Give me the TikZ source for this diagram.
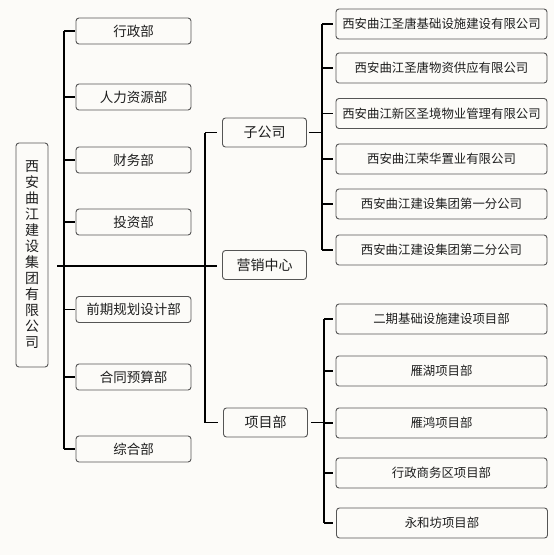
\documentclass[tikz,border=0pt]{standalone}
\usepackage{fontspec}
\newfontfamily\cjk{Noto Sans CJK SC}
\definecolor{bg}{RGB}{252,251,248}
\definecolor{boxgray}{RGB}{85,85,85}
\definecolor{txt}{RGB}{30,30,30}
\begin{document}
\begin{tikzpicture}[x=1pt,y=-1pt,
  box/.style={draw=boxgray, line width=0.9pt, rounded corners=3pt, fill=bg, inner sep=0pt, align=center, text=txt},
  rootbox/.style={box, minimum width=32pt, minimum height=224pt, font=\cjk\fontsize{14}{16}\selectfont},
  lbox/.style={box, minimum width=115pt, minimum height=26pt, font=\cjk\fontsize{13.5}{14}\selectfont},
  mbox/.style={box, minimum width=84pt, minimum height=29pt, font=\cjk\fontsize{14}{15}\selectfont},
  rbox/.style={box, minimum width=211pt, minimum height=30pt, font=\cjk\fontsize{12.4}{14}\selectfont},
  link/.style={line width=1.1pt, black}]
\useasboundingbox[fill=bg] (0,0) rectangle (554,555);

% root
\node[rootbox] (root) at (32,255) {西\\安\\曲\\江\\建\\设\\集\\团\\有\\限\\公\\司};

% left column
\node[lbox] (l1) at (133.5,31) {行政部};
\node[lbox] (l2) at (133.5,97) {人力资源部};
\node[lbox] (l3) at (133.5,160) {财务部};
\node[lbox] (l4) at (133.5,222) {投资部};
\node[lbox] (l5) at (133.5,309.5) {前期规划设计部};
\node[lbox] (l6) at (133.5,377) {合同预算部};
\node[lbox] (l7) at (133.5,449) {综合部};

% middle column
\node[mbox] (zgs) at (264.5,132.5) {子公司};
\node[mbox] (yx)  at (264.5,265) {营销中心};
\node[mbox] (xm)  at (265.5,422.5) {项目部};

% right top
\node[rbox] (a1) at (441.5,24) {西安曲江圣唐基础设施建设有限公司};
\node[rbox] (a2) at (441.5,68) {西安曲江圣唐物资供应有限公司};
\node[rbox] (a3) at (441.5,113.5) {西安曲江新区圣境物业管理有限公司};
\node[rbox] (a4) at (441.5,159) {西安曲江荣华置业有限公司};
\node[rbox] (a5) at (441.5,204) {西安曲江建设集团第一分公司};
\node[rbox] (a6) at (441.5,250) {西安曲江建设集团第二分公司};

% right bottom
\node[rbox] (b1) at (441.5,319) {二期基础设施建设项目部};
\node[rbox] (b2) at (441.5,371) {雁湖项目部};
\node[rbox] (b3) at (441.5,423) {雁鸿项目部};
\node[rbox] (b4) at (441.5,473) {行政商务区项目部};
\node[rbox] (b5) at (442,523) {永和坊项目部};

% spines
\coordinate (sl) at (64,0);
\coordinate (sm) at (205,0);
\coordinate (sa) at (322,0);
\coordinate (sb) at (324,0);
\coordinate (rs) at (57,266);

% root to 营销中心
\draw[link, shorten >=5pt] (rs) -- (rs -| yx.west);

% left spine
\draw[link] (sl |- l1.west) -- (sl |- l7.west);
\foreach \n in {l1,l2,l3,l4,l5,l6,l7}
  \draw[link, shorten >=1pt] (sl |- \n.west) -- (\n.west);

% middle spine
\draw[link] (sm |- zgs.west) -- (sm |- xm.west);
\foreach \n in {zgs,xm}
  \draw[link, shorten >=5pt] (sm |- \n.west) -- (\n.west);

% subsidiaries
\draw[link, shorten <=2pt] (zgs.east) -- (sa |- zgs.east);
\draw[link] (sa |- a1.west) -- (sa |- a6.west);
\foreach \n in {a1,a2,a3,a4,a5,a6}
  \draw[link, shorten >=3pt] (sa |- \n.west) -- (\n.west);

% project departments
\draw[link, shorten <=3pt] (xm.east) -- (sb |- xm.east);
\draw[link] (sb |- b1.west) -- (sb |- b5.west);
\foreach \n in {b1,b2,b3,b4,b5}
  \draw[link, shorten >=3pt] (sb |- \n.west) -- (\n.west);
\end{tikzpicture}
\end{document}
